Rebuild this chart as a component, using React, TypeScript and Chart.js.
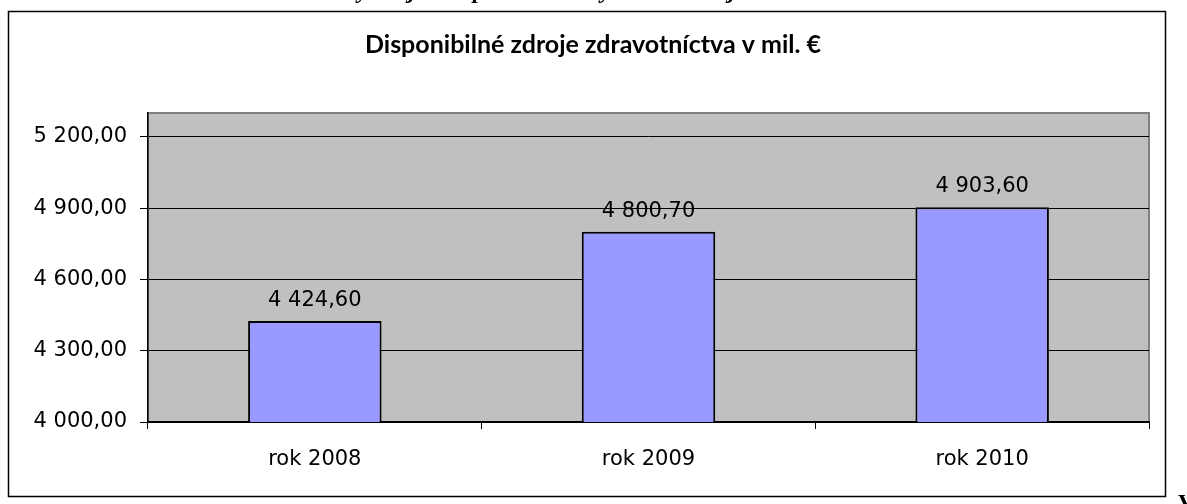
import React, { useEffect, useRef } from "react";
import { Chart, registerables } from "chart.js";

Chart.register(...registerables);

const categories = ["rok 2008", "rok 2009", "rok 2010"];
const values = [4424.6, 4800.7, 4903.6];
const yTickValues = [4000, 4300, 4600, 4900, 5200];
const yTickLabels = ["4 000,00", "4 300,00", "4 600,00", "4 900,00", "5 200,00"];
const chartTitle = "Disponibilné zdroje zdravotníctva v mil. €";
const headingFragments = [
  { ch: "y", x: 363 },
  { ch: "j", x: 412 },
  { ch: "p", x: 479 },
  { ch: "y", x: 606 },
  { ch: "j", x: 732 },
];
const cornerLetter = "V";

function formatValue(v: number): string {
  const [intPart, dec] = v.toFixed(2).split(".");
  const withSpaces = intPart.replace(/\B(?=(\d{3})+(?!\d))/g, " ");
  return withSpaces + "," + dec;
}

const decorPlugin = {
  id: "decor",
  beforeDraw(chart: any) {
    const { ctx, chartArea } = chart;
    ctx.save();
    // outer frame
    ctx.strokeStyle = "#000";
    ctx.lineWidth = 1.5;
    ctx.strokeRect(8.5, 11.5, 1157, 485);
    // plot background
    ctx.fillStyle = "#C0C0C0";
    ctx.fillRect(chartArea.left, chartArea.top, chartArea.right - chartArea.left, chartArea.bottom - chartArea.top);
    ctx.strokeStyle = "#808080";
    ctx.lineWidth = 2;
    ctx.strokeRect(chartArea.left, chartArea.top, chartArea.right - chartArea.left, chartArea.bottom - chartArea.top);
    // title
    ctx.fillStyle = "#000";
    ctx.font = "bold 25px Lato";
    ctx.textAlign = "center";
    ctx.textBaseline = "alphabetic";
    ctx.fillText(chartTitle, 593, 53);
    // cropped heading fragments at top
    ctx.font = "bold italic 24px 'Liberation Serif'";
    ctx.textAlign = "center";
    headingFragments.forEach((f) => ctx.fillText(f.ch, f.x, -2));
    ctx.font = "bold 24px 'Liberation Serif'";
    ctx.textAlign = "left";
    ctx.fillText(cornerLetter, 1178, 510);
    ctx.restore();
  },
  afterDatasetsDraw(chart: any) {
    const { ctx } = chart;
    const meta = chart.getDatasetMeta(0);
    ctx.save();
    ctx.fillStyle = "#000";
    ctx.font = "21px 'DejaVu Sans'";
    ctx.textAlign = "center";
    ctx.textBaseline = "alphabetic";
    meta.data.forEach((el: any, i: number) => {
      ctx.fillText(formatValue(values[i]), el.x, el.y - 15);
    });
    ctx.restore();
  },
};

export default function App() {
  const canvasRef = useRef<HTMLCanvasElement | null>(null);

  useEffect(() => {
    document.body.style.margin = "0";
    const canvas = canvasRef.current;
    if (!canvas) return;
    const chart = new Chart(canvas, {
      type: "bar",
      data: {
        labels: categories,
        datasets: [
          {
            data: values,
            backgroundColor: "#9999FF",
            borderColor: "#000000",
            borderWidth: 2,
            barPercentage: 0.4,
            categoryPercentage: 1,
          },
        ],
      },
      options: {
        responsive: false,
        animation: false,
        devicePixelRatio: 1,
        layout: { padding: { left: 0, right: 38, top: 113, bottom: 0 } },
        plugins: {
          legend: { display: false },
          tooltip: { enabled: false },
          title: { display: false },
        },
        scales: {
          x: {
            afterFit(scale: any) {
              scale.height = 82;
            },
            grid: {
              display: true,
              offset: true,
              drawOnChartArea: false,
              drawTicks: true,
              tickLength: 7,
              color: "#000",
            },
            border: { display: true, color: "#000", width: 1.5 },
            ticks: {
              color: "#000",
              font: { family: "DejaVu Sans", size: 21 },
              padding: 18,
              maxRotation: 0,
            },
          },
          y: {
            min: 4000,
            max: 5300,
            afterFit(scale: any) {
              scale.width = 148;
            },
            afterBuildTicks(scale: any) {
              scale.ticks = yTickValues.map((v) => ({ value: v }));
            },
            grid: {
              color: "#000",
              lineWidth: 1,
              drawTicks: true,
              tickLength: 8,
            },
            border: { display: true, color: "#000", width: 1.5 },
            ticks: {
              color: "#000",
              font: { family: "DejaVu Sans", size: 21 },
              padding: 13,
              callback(value: any) {
                const idx = yTickValues.indexOf(Number(value));
                return idx >= 0 ? yTickLabels[idx] : "";
              },
            },
          },
        },
      },
      plugins: [decorPlugin],
    });
    return () => chart.destroy();
  }, []);

  return (
    <div style={{ position: "relative", width: 1187, height: 504, background: "#fff" }}>
      <canvas ref={canvasRef} width={1187} height={504} style={{ display: "block" }} />
    </div>
  );
}
